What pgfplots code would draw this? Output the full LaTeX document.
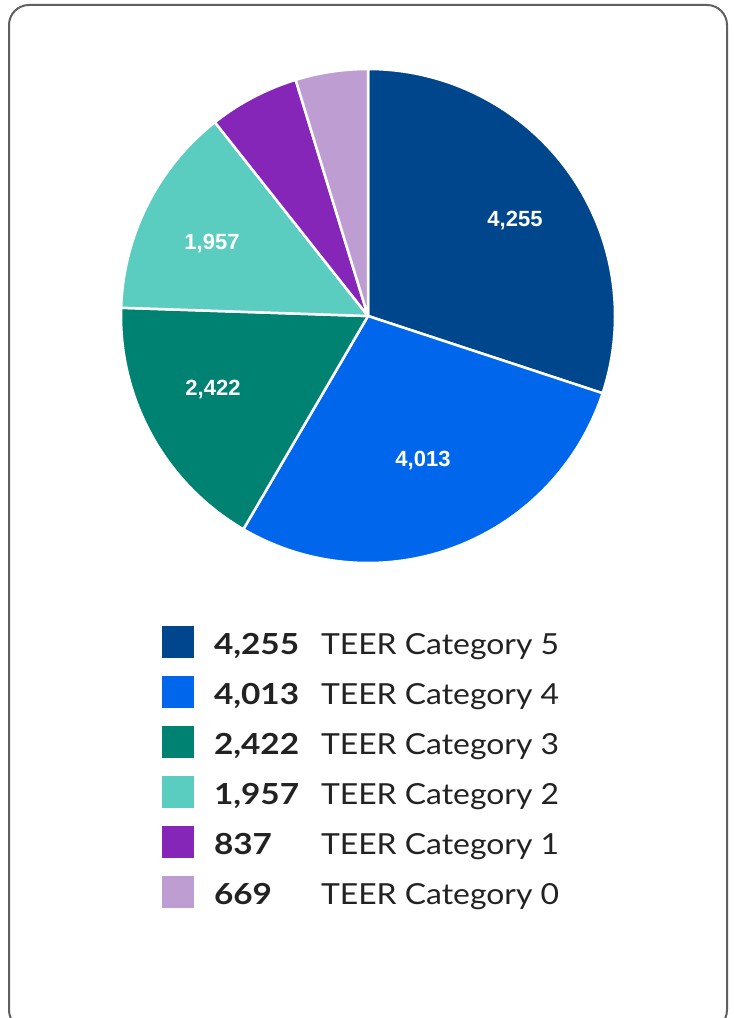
\documentclass[border=0pt]{standalone}
\usepackage{pgfplots}
\usepackage{pgfplotstable}
\pgfplotsset{compat=1.18}
\usepackage{fontspec}
\setmainfont{Lato}[FakeStretch=1.1, BoldFeatures={FakeStretch=1.15}]
\newfontfamily\labfont{Liberation Sans}

\definecolor{cA}{RGB}{0,70,140}
\definecolor{cB}{RGB}{0,102,235}
\definecolor{cC}{RGB}{0,130,115}
\definecolor{cD}{RGB}{90,204,192}
\definecolor{cE}{RGB}{133,38,185}
\definecolor{cF}{RGB}{190,158,210}
\definecolor{frame}{RGB}{96,96,96}
\definecolor{txt}{RGB}{34,34,34}

\pgfplotstableread{
value
4255
4013
2422
1957
837
669
}\piedata

\pgfplotstablegetelem{0}{value}\of\piedata \let\vA\pgfplotsretval
\pgfplotstablegetelem{1}{value}\of\piedata \let\vB\pgfplotsretval
\pgfplotstablegetelem{2}{value}\of\piedata \let\vC\pgfplotsretval
\pgfplotstablegetelem{3}{value}\of\piedata \let\vD\pgfplotsretval
\pgfplotstablegetelem{4}{value}\of\piedata \let\vE\pgfplotsretval
\pgfplotstablegetelem{5}{value}\of\piedata \let\vF\pgfplotsretval
\pgfmathsetmacro\tot{\vA+\vB+\vC+\vD+\vE+\vF}
\pgfmathsetmacro\aA{90}
\pgfmathsetmacro\aB{\aA-360*(\vA/\tot)}
\pgfmathsetmacro\aC{\aB-360*(\vB/\tot)}
\pgfmathsetmacro\aD{\aC-360*(\vC/\tot)}
\pgfmathsetmacro\aE{\aD-360*(\vD/\tot)}
\pgfmathsetmacro\aF{\aE-360*(\vE/\tot)}
\pgfmathsetmacro\aG{-270}

\def\cx{368}
\def\cy{702}
\def\R{247}

\begin{document}
\begin{tikzpicture}[x=1pt,y=1pt]
\useasboundingbox (0,0) rectangle (734,1018);
\clip (0,0) rectangle (734,1018);
\draw[frame, line width=2pt, rounded corners=20pt] (9,-12) rectangle (727,1013);
\begin{axis}[
  at={(0,0)}, anchor=south west,
  scale only axis, width=734pt, height=1018pt,
  xmin=0, xmax=734, ymin=0, ymax=1018,
  hide axis, clip=false,
  legend style={at={(axis cs:162,392)}, anchor=north west, draw=none, fill=none,
    inner sep=0pt, outer sep=0pt, row sep=18pt,
    nodes={inner sep=0pt, outer sep=0pt, text height=29pt, text depth=3pt, anchor=base west, text=txt,
      font=\fontsize{29}{34}\selectfont},
    /tikz/every odd column/.append style={column sep=20pt}},
  legend cell align=left,
  legend image code/.code={\fill[#1, draw=none] (0pt,-3pt) rectangle (32pt,29pt);},
  every axis plot/.append style={draw=white, line width=2.5pt, line join=round, samples=120},
]
\addplot[fill=cA, domain=\aB:\aA] ({\cx+\R*cos(x)},{\cy+\R*sin(x)}) -- (axis cs:\cx,\cy) -- cycle;
\addlegendentry{\makebox[107pt][l]{\bfseries 4,255}TEER Category 5}
\addplot[fill=cB, domain=\aC:\aB] ({\cx+\R*cos(x)},{\cy+\R*sin(x)}) -- (axis cs:\cx,\cy) -- cycle;
\addlegendentry{\makebox[107pt][l]{\bfseries 4,013}TEER Category 4}
\addplot[fill=cC, domain=\aD:\aC] ({\cx+\R*cos(x)},{\cy+\R*sin(x)}) -- (axis cs:\cx,\cy) -- cycle;
\addlegendentry{\makebox[107pt][l]{\bfseries 2,422}TEER Category 3}
\addplot[fill=cD, domain=\aE:\aD] ({\cx+\R*cos(x)},{\cy+\R*sin(x)}) -- (axis cs:\cx,\cy) -- cycle;
\addlegendentry{\makebox[107pt][l]{\bfseries 1,957}TEER Category 2}
\addplot[fill=cE, domain=\aF:\aE] ({\cx+\R*cos(x)},{\cy+\R*sin(x)}) -- (axis cs:\cx,\cy) -- cycle;
\addlegendentry{\makebox[107pt][l]{\bfseries 837}TEER Category 1}
\addplot[fill=cF, domain=\aG:\aF] ({\cx+\R*cos(x)},{\cy+\R*sin(x)}) -- (axis cs:\cx,\cy) -- cycle;
\addlegendentry{\makebox[107pt][l]{\bfseries 669}TEER Category 0}

\begin{scope}[every node/.style={text=white, font=\labfont\bfseries\fontsize{22}{25}\selectfont}]
\node at (axis cs:515,797) {4,255};
\node at (axis cs:423,557) {4,013};
\node at (axis cs:213,628) {2,422};
\node at (axis cs:212,774) {1,957};
\end{scope}
\end{axis}
\end{tikzpicture}
\end{document}
